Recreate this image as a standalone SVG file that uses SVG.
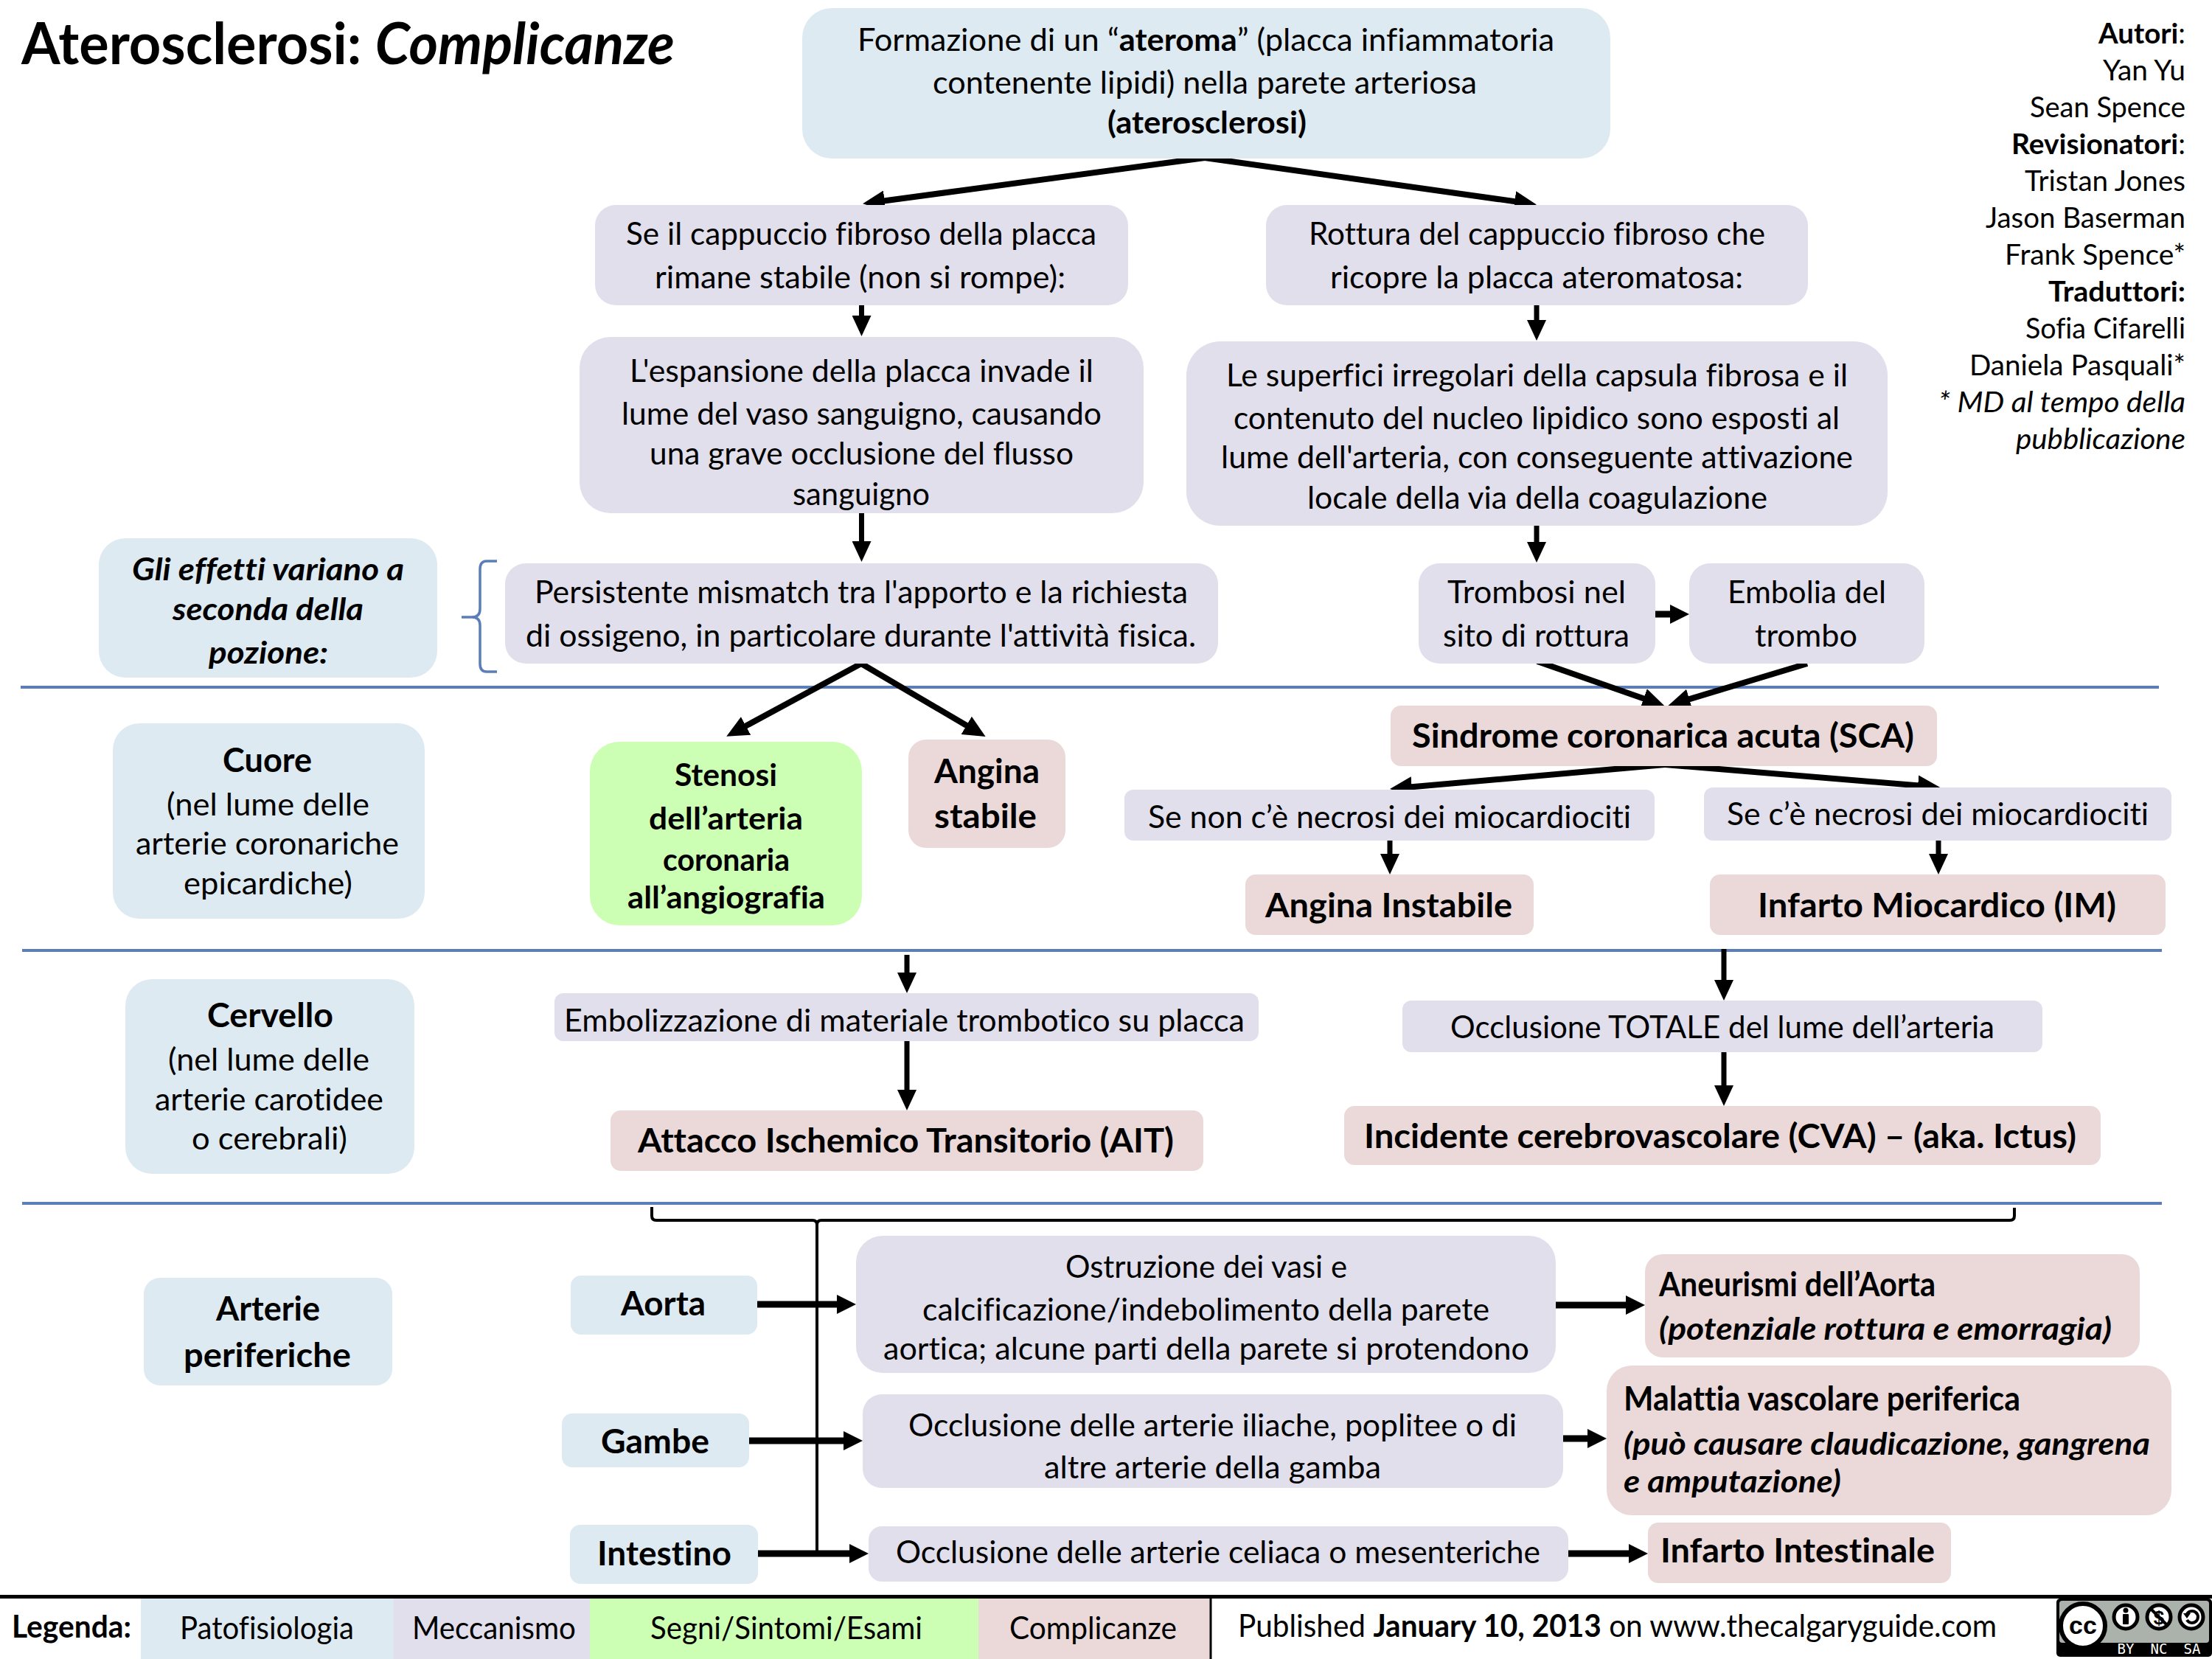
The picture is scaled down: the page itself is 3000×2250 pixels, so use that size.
<svg xmlns="http://www.w3.org/2000/svg" width="3000" height="2250" viewBox="0 0 3000 2250">
<style>
text{font-family:"Lato","Liberation Sans",sans-serif;font-size:42px;fill:#000;font-variant-ligatures:none}
.b{font-weight:700}
.i{font-style:italic}
.t{font-size:78px;font-weight:700}
.h{font-size:46px;font-weight:700}
.c{font-size:38px}
.blue{fill:#deeaf1}.lil{fill:#e1dfec}.grn{fill:#ccffb3}.pnk{fill:#ebd9d9}
.ln{fill:none;stroke:#000;stroke-width:7;marker-end:url(#a)}
.dg{stroke-width:8;marker-end:url(#d)}
.thk{stroke-width:9;marker-end:url(#b)}
.sep{fill:none;stroke:#5b7db8;stroke-width:4}
.thin{fill:none;stroke:#000;stroke-width:4}
.cct{font-family:"DejaVu Sans Mono",monospace;font-size:19px;fill:#fff}
.ccs{font-family:"Liberation Sans",sans-serif;font-weight:700}
</style>
<defs>
<marker id="a" markerUnits="userSpaceOnUse" viewBox="0 0 28 26" refX="18" refY="13" markerWidth="28" markerHeight="26" orient="auto"><path d="M0 0L28 13L0 26Z"/></marker>
<marker id="d" markerUnits="userSpaceOnUse" viewBox="0 0 30 28" refX="20" refY="14" markerWidth="30" markerHeight="28" orient="auto"><path d="M0 0L30 14L0 28Z"/></marker>
<marker id="b" markerUnits="userSpaceOnUse" viewBox="0 0 26 26" refX="16" refY="13" markerWidth="26" markerHeight="26" orient="auto"><path d="M0 0L26 13L0 26Z"/></marker>
</defs>
<rect width="3000" height="2250" fill="#fff"/>
<text id="title" class="t" x="29" y="87" textLength="886" lengthAdjust="spacingAndGlyphs">Aterosclerosi: <tspan class="i">Complicanze</tspan></text>
<g id="credits" class="c">
<text class="c" x="2846" y="59" textLength="118" lengthAdjust="spacingAndGlyphs"><tspan class="b">Autori</tspan>:</text>
<text class="c" x="2852" y="109" textLength="112" lengthAdjust="spacingAndGlyphs">Yan Yu</text>
<text class="c" x="2753" y="159" textLength="211" lengthAdjust="spacingAndGlyphs">Sean Spence</text>
<text class="c" x="2728" y="209" textLength="236" lengthAdjust="spacingAndGlyphs"><tspan class="b">Revisionatori</tspan>:</text>
<text class="c" x="2746" y="259" textLength="218" lengthAdjust="spacingAndGlyphs">Tristan Jones</text>
<text class="c" x="2693" y="309" textLength="271" lengthAdjust="spacingAndGlyphs">Jason Baserman</text>
<text class="c" x="2719" y="359" textLength="245" lengthAdjust="spacingAndGlyphs">Frank Spence*</text>
<text class="c b" x="2778" y="409" textLength="186" lengthAdjust="spacingAndGlyphs">Traduttori:</text>
<text class="c" x="2747" y="459" textLength="217" lengthAdjust="spacingAndGlyphs">Sofia Cifarelli</text>
<text class="c" x="2671" y="509" textLength="293" lengthAdjust="spacingAndGlyphs">Daniela Pasquali*</text>
<text class="c i" x="2629" y="559" textLength="335" lengthAdjust="spacingAndGlyphs">* MD al tempo della</text>
<text class="c i" x="2734" y="609" textLength="230" lengthAdjust="spacingAndGlyphs">pubblicazione</text>
</g>
<g id="separators">
<path class="sep" d="M28 932H2928M30 1289H2932M30 1632H2932"/>
<path class="sep" style="stroke-width:3.500" d="M674 761H660Q651 761 651 772V826Q651 837 640 837H626M640 837Q651 837 651 848V900Q651 911 660 911H674"/>
</g>
<g id="connectors">
<path class="ln dg" d="M1634 214L1180 275"/>
<path class="ln dg" d="M1634 214L2074 276"/>
<path class="ln" d="M1168.500 414V446"/>
<path class="ln" d="M1168.500 696V752"/>
<path class="ln" d="M2084 414V452"/>
<path class="ln" d="M2084 713V753"/>
<path class="ln thk" d="M2245 833H2281"/>
<path class="ln dg" d="M1168 900L994 994"/>
<path class="ln dg" d="M1168 900L1328 994"/>
<path class="ln dg" d="M2085 897L2248 954"/>
<path class="ln dg" d="M2451 900L2272 954"/>
<path class="ln dg" d="M2258 1037L1895 1069"/>
<path class="ln dg" d="M2258 1037L2621 1067"/>
<path class="ln" d="M1885 1140V1176"/>
<path class="ln" d="M2629 1140V1176"/>
<path class="ln" d="M1230 1295V1337"/>
<path class="ln" d="M1230 1412V1496"/>
<path class="ln" d="M2338 1287V1347"/>
<path class="ln" d="M2338 1427V1490"/>
<path class="thin" d="M884 1637V1649Q884 1655 890 1655H1102Q1108 1655 1108 1661Q1108 1655 1114 1655H2726Q2732 1655 2732 1649V1638"/>
<path class="thin" d="M1108 1655V2107"/>
<path class="ln thk" d="M1027 1769H1151"/>
<path class="ln thk" d="M1016 1954H1160"/>
<path class="ln thk" d="M1028 2107H1168"/>
<path class="ln thk" d="M2110 1770H2221"/>
<path class="ln thk" d="M2120 1951H2169"/>
<path class="ln thk" d="M2127 2107H2225"/>
</g>
<g id="n-ateroma"><rect class="blue" x="1088" y="11" width="1096" height="204" rx="40"/>
<text x="1163" y="69" textLength="945" lengthAdjust="spacingAndGlyphs">Formazione di un “<tspan class="b">ateroma</tspan>” (placca infiammatoria</text>
<text x="1265" y="127" textLength="738" lengthAdjust="spacingAndGlyphs">contenente lipidi) nella parete arteriosa</text>
<text class="b" x="1502" y="181" textLength="270" lengthAdjust="spacingAndGlyphs">(aterosclerosi)</text></g>
<g id="n-stabile"><rect class="lil" x="807" y="278" width="723" height="136" rx="28"/>
<text x="849" y="332" textLength="638" lengthAdjust="spacingAndGlyphs">Se il cappuccio fibroso della placca</text>
<text x="888" y="391" textLength="557" lengthAdjust="spacingAndGlyphs">rimane stabile (non si rompe):</text></g>
<g id="n-rottura"><rect class="lil" x="1717" y="278" width="735" height="136" rx="28"/>
<text x="1775" y="332" textLength="619" lengthAdjust="spacingAndGlyphs">Rottura del cappuccio fibroso che</text>
<text x="1804" y="391" textLength="560" lengthAdjust="spacingAndGlyphs">ricopre la placca ateromatosa:</text></g>
<g id="n-espansione"><rect class="lil" x="786" y="457" width="765" height="239" rx="42"/>
<text x="854" y="518" textLength="629" lengthAdjust="spacingAndGlyphs">L'espansione della placca invade il</text>
<text x="843" y="576" textLength="651" lengthAdjust="spacingAndGlyphs">lume del vaso sanguigno, causando</text>
<text x="881" y="630" textLength="575" lengthAdjust="spacingAndGlyphs">una grave occlusione del flusso</text>
<text x="1075" y="685" textLength="186" lengthAdjust="spacingAndGlyphs">sanguigno</text></g>
<g id="n-superfici"><rect class="lil" x="1609" y="463" width="951" height="250" rx="46"/>
<text x="1663" y="524" textLength="843" lengthAdjust="spacingAndGlyphs">Le superfici irregolari della capsula fibrosa e il</text>
<text x="1673" y="582" textLength="822" lengthAdjust="spacingAndGlyphs">contenuto del nucleo lipidico sono esposti al</text>
<text x="1656" y="635" textLength="857" lengthAdjust="spacingAndGlyphs">lume dell'arteria, con conseguente attivazione</text>
<text x="1773" y="690" textLength="624" lengthAdjust="spacingAndGlyphs">locale della via della coagulazione</text></g>
<g id="n-effetti"><rect class="blue" x="134" y="730" width="459" height="189" rx="36"/>
<text class="b i" x="179" y="787" textLength="369" lengthAdjust="spacingAndGlyphs">Gli effetti variano a</text>
<text class="b i" x="234" y="841" textLength="259" lengthAdjust="spacingAndGlyphs">seconda della</text>
<text class="b i" x="283" y="900" textLength="162" lengthAdjust="spacingAndGlyphs">pozione:</text></g>
<g id="n-mismatch"><rect class="lil" x="685" y="764" width="967" height="136" rx="28"/>
<text x="725" y="818" textLength="886" lengthAdjust="spacingAndGlyphs">Persistente mismatch tra l'apporto e la richiesta</text>
<text x="713" y="877" textLength="909" lengthAdjust="spacingAndGlyphs">di ossigeno, in particolare durante l'attività fisica.</text></g>
<g id="n-trombosi"><rect class="lil" x="1924" y="764" width="321" height="136" rx="28"/>
<text x="1963" y="818" textLength="242" lengthAdjust="spacingAndGlyphs">Trombosi nel</text>
<text x="1957" y="877" textLength="253" lengthAdjust="spacingAndGlyphs">sito di rottura</text></g>
<g id="n-embolia"><rect class="lil" x="2291" y="764" width="319" height="136" rx="28"/>
<text x="2343" y="818" textLength="215" lengthAdjust="spacingAndGlyphs">Embolia del</text>
<text x="2380" y="877" textLength="139" lengthAdjust="spacingAndGlyphs">trombo</text></g>
<g id="n-cuore"><rect class="blue" x="153" y="981" width="423" height="265" rx="36"/>
<text class="h" x="302" y="1047" textLength="121" lengthAdjust="spacingAndGlyphs">Cuore</text>
<text x="226" y="1106" textLength="275" lengthAdjust="spacingAndGlyphs">(nel lume delle</text>
<text x="184" y="1159" textLength="357" lengthAdjust="spacingAndGlyphs">arterie coronariche</text>
<text x="249" y="1213" textLength="229" lengthAdjust="spacingAndGlyphs">epicardiche)</text></g>
<g id="n-stenosi"><rect class="grn" x="800" y="1006" width="369" height="249" rx="40"/>
<text class="b" x="915" y="1066" textLength="139" lengthAdjust="spacingAndGlyphs">Stenosi</text>
<text class="b" x="880" y="1125" textLength="209" lengthAdjust="spacingAndGlyphs">dell’arteria</text>
<text class="b" x="899" y="1181" textLength="172" lengthAdjust="spacingAndGlyphs">coronaria</text>
<text class="b" x="851" y="1232" textLength="268" lengthAdjust="spacingAndGlyphs">all’angiografia</text></g>
<g id="n-angina-stabile"><rect class="pnk" x="1232" y="1003" width="213" height="147" rx="24"/>
<text class="h" x="1267" y="1062" textLength="143" lengthAdjust="spacingAndGlyphs">Angina</text>
<text class="h" x="1267" y="1123" textLength="139" lengthAdjust="spacingAndGlyphs">stabile</text></g>
<g id="n-sca"><rect class="pnk" x="1886" y="957" width="741" height="82" rx="14"/>
<text class="h" x="1915" y="1014" textLength="681" lengthAdjust="spacingAndGlyphs">Sindrome coronarica acuta (SCA)</text></g>
<g id="n-no-necrosi"><rect class="lil" x="1525" y="1071" width="719" height="69" rx="12"/>
<text x="1557" y="1123" textLength="655" lengthAdjust="spacingAndGlyphs">Se non c’è necrosi dei miocardiociti</text></g>
<g id="n-necrosi"><rect class="lil" x="2311" y="1068" width="634" height="72" rx="12"/>
<text x="2342" y="1119" textLength="572" lengthAdjust="spacingAndGlyphs">Se c’è necrosi dei miocardiociti</text></g>
<g id="n-angina-instabile"><rect class="pnk" x="1689" y="1186" width="391" height="82" rx="14"/>
<text class="h" x="1716" y="1244" textLength="335" lengthAdjust="spacingAndGlyphs">Angina Instabile</text></g>
<g id="n-im"><rect class="pnk" x="2319" y="1186" width="618" height="82" rx="14"/>
<text class="h" x="2384" y="1244" textLength="486" lengthAdjust="spacingAndGlyphs">Infarto Miocardico (IM)</text></g>
<g id="n-cervello"><rect class="blue" x="170" y="1328" width="392" height="264" rx="36"/>
<text class="h" x="281" y="1393" textLength="171" lengthAdjust="spacingAndGlyphs">Cervello</text>
<text x="228" y="1452" textLength="273" lengthAdjust="spacingAndGlyphs">(nel lume delle</text>
<text x="210" y="1506" textLength="310" lengthAdjust="spacingAndGlyphs">arterie carotidee</text>
<text x="260" y="1559" textLength="211" lengthAdjust="spacingAndGlyphs">o cerebrali)</text></g>
<g id="n-embolizzazione"><rect class="lil" x="752" y="1347" width="955" height="65" rx="12"/>
<text x="765" y="1399" textLength="923" lengthAdjust="spacingAndGlyphs">Embolizzazione di materiale trombotico su placca</text></g>
<g id="n-ait"><rect class="pnk" x="828" y="1506" width="804" height="82" rx="14"/>
<text class="h" x="865" y="1563" textLength="727" lengthAdjust="spacingAndGlyphs">Attacco Ischemico Transitorio (AIT)</text></g>
<g id="n-totale"><rect class="lil" x="1902" y="1357" width="868" height="70" rx="12"/>
<text x="1967" y="1408" textLength="738" lengthAdjust="spacingAndGlyphs">Occlusione TOTALE del lume dell’arteria</text></g>
<g id="n-cva"><rect class="pnk" x="1823" y="1500" width="1026" height="80" rx="14"/>
<text class="h" x="1850" y="1557" textLength="966" lengthAdjust="spacingAndGlyphs">Incidente cerebrovascolare (CVA) – (aka. Ictus)</text></g>
<g id="n-periferiche"><rect class="blue" x="195" y="1733" width="337" height="146" rx="22"/>
<text class="h" x="293" y="1791" textLength="141" lengthAdjust="spacingAndGlyphs">Arterie</text>
<text class="h" x="249" y="1854" textLength="227" lengthAdjust="spacingAndGlyphs">periferiche</text></g>
<g id="n-aorta"><rect class="blue" x="774" y="1730" width="253" height="80" rx="14"/>
<text class="h" x="842" y="1784" textLength="115" lengthAdjust="spacingAndGlyphs">Aorta</text></g>
<g id="n-gambe"><rect class="blue" x="762" y="1917" width="254" height="73" rx="14"/>
<text class="h" x="815" y="1971" textLength="147" lengthAdjust="spacingAndGlyphs">Gambe</text></g>
<g id="n-intestino"><rect class="blue" x="773" y="2068" width="255" height="80" rx="14"/>
<text class="h" x="810" y="2123" textLength="182" lengthAdjust="spacingAndGlyphs">Intestino</text></g>
<g id="n-ostruzione"><rect class="lil" x="1161" y="1676" width="949" height="186" rx="36"/>
<text x="1445" y="1733" textLength="382" lengthAdjust="spacingAndGlyphs">Ostruzione dei vasi e</text>
<text x="1251" y="1791" textLength="769" lengthAdjust="spacingAndGlyphs">calcificazione/indebolimento della parete</text>
<text x="1198" y="1844" textLength="876" lengthAdjust="spacingAndGlyphs">aortica; alcune parti della parete si protendono</text></g>
<g id="n-iliache"><rect class="lil" x="1170" y="1891" width="950" height="127" rx="26"/>
<text x="1232" y="1948" textLength="825" lengthAdjust="spacingAndGlyphs">Occlusione delle arterie iliache, poplitee o di</text>
<text x="1416" y="2005" textLength="457" lengthAdjust="spacingAndGlyphs">altre arterie della gamba</text></g>
<g id="n-celiaca"><rect class="lil" x="1178" y="2070" width="949" height="75" rx="18"/>
<text x="1215" y="2120" textLength="874" lengthAdjust="spacingAndGlyphs">Occlusione delle arterie celiaca o mesenteriche</text></g>
<g id="n-aneurismi"><rect class="pnk" x="2231" y="1701" width="671" height="140" rx="24"/>
<text class="h" x="2250" y="1758" textLength="375" lengthAdjust="spacingAndGlyphs">Aneurismi dell’Aorta</text>
<text class="b i" x="2250" y="1817" textLength="614" lengthAdjust="spacingAndGlyphs">(potenziale rottura e emorragia)</text></g>
<g id="n-malattia"><rect class="pnk" x="2179" y="1852" width="766" height="203" rx="34"/>
<text class="h" x="2202" y="1913" textLength="538" lengthAdjust="spacingAndGlyphs">Malattia vascolare periferica</text>
<text class="b i" x="2202" y="1973" textLength="714" lengthAdjust="spacingAndGlyphs">(può causare claudicazione, gangrena</text>
<text class="b i" x="2202" y="2024" textLength="295" lengthAdjust="spacingAndGlyphs">e amputazione)</text></g>
<g id="n-infarto-intestinale"><rect class="pnk" x="2235" y="2065" width="411" height="82" rx="14"/>
<text class="h" x="2252" y="2119" textLength="372" lengthAdjust="spacingAndGlyphs">Infarto Intestinale</text></g>
<g id="legend">
<rect x="191" y="2168" width="343" height="82" class="blue"/>
<rect x="534" y="2168" width="266" height="82" class="lil"/>
<rect x="800" y="2168" width="527" height="82" class="grn"/>
<rect x="1327" y="2168" width="315" height="82" class="pnk"/>
<path d="M0 2165.500H3000" stroke="#000" stroke-width="5" fill="none"/>
<path d="M1642 2168V2250" stroke="#000" stroke-width="3" fill="none"/>
<text class="b" x="16" y="2221" textLength="162" lengthAdjust="spacingAndGlyphs">Legenda:</text>
<text x="244" y="2223" textLength="236" lengthAdjust="spacingAndGlyphs">Patofisiologia</text>
<text x="559" y="2223" textLength="222" lengthAdjust="spacingAndGlyphs">Meccanismo</text>
<text x="882" y="2223" textLength="369" lengthAdjust="spacingAndGlyphs">Segni/Sintomi/Esami</text>
<text x="1369" y="2223" textLength="227" lengthAdjust="spacingAndGlyphs">Complicanze</text>
<text x="1679" y="2220" textLength="1029" lengthAdjust="spacingAndGlyphs">Published <tspan class="b">January 10, 2013</tspan> on www.thecalgaryguide.com</text>
</g>
<g id="cc-badge">
<rect x="2789" y="2168" width="211" height="79" rx="5" fill="#000"/>
<rect x="2793" y="2171" width="203" height="57" rx="4" fill="#aab2ab"/>
<circle cx="2825" cy="2205" r="30" fill="#fff" stroke="#000" stroke-width="6"/>
<text class="ccs" x="2825" y="2216" text-anchor="middle" style="font-size:34px">cc</text>
<circle cx="2883" cy="2193" r="16" fill="#fff" stroke="#000" stroke-width="5"/>
<circle cx="2883" cy="2184" r="3.500"/>
<rect x="2879" y="2189" width="8" height="14" rx="1"/>
<circle cx="2928" cy="2193" r="16" fill="#fff" stroke="#000" stroke-width="5"/>
<text class="ccs" x="2928" y="2203" text-anchor="middle" style="font-size:26px">$</text>
<path d="M2917 2182L2939 2204" stroke="#000" stroke-width="4"/>
<circle cx="2972" cy="2193" r="16" fill="#fff" stroke="#000" stroke-width="5"/>
<path d="M2966 2189A8 8 0 1 1 2966 2197" fill="none" stroke="#000" stroke-width="4"/>
<path d="M2961 2188L2971 2188L2966 2195Z"/>
<text class="cct" x="2883" y="2243" text-anchor="middle">BY</text>
<text class="cct" x="2928" y="2243" text-anchor="middle">NC</text>
<text class="cct" x="2973" y="2243" text-anchor="middle">SA</text>
</g>
</svg>
